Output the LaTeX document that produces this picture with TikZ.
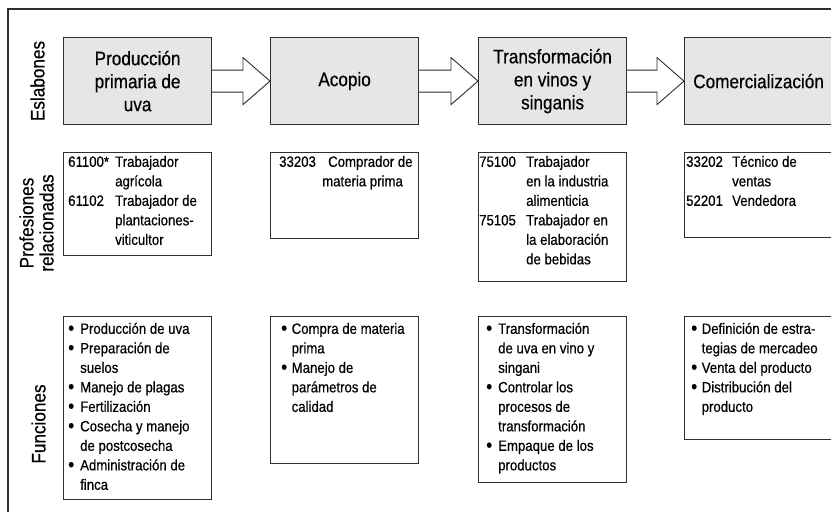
\documentclass[tikz,border=0pt]{standalone}
\usepackage{fontspec}
\setmainfont{Liberation Sans}[FakeStretch=0.88,FakeBold=0.5]
\usetikzlibrary{calc}
\definecolor{linecol}{HTML}{2E2E2E}
\definecolor{boxfill}{HTML}{E6E6E6}
\newcommand{\vineta}{\raisebox{-0.8pt}{\scalebox{1.3}{\textbullet}}}
\tikzset{
  frameline/.style={draw=linecol, line width=1.1pt},
  eslabon/.style={draw=linecol, fill=boxfill, line width=1.2pt, minimum width=148pt,
    minimum height=87pt, anchor=north west, align=center, inner sep=0pt,
    font=\fontsize{19.5}{23}\selectfont},
  infobox/.style={draw=linecol, line width=1.2pt, anchor=north west, inner sep=0pt,
    minimum width=148pt},
  rowlabel/.style={rotate=90, align=center, inner sep=0pt,
    font=\fontsize{19.5}{20}\selectfont},
  flecha/.style={draw=linecol, fill=white, line width=0.9pt, line join=miter},
  bodytext/.style={anchor=north west, inner sep=0pt, align=left,
    font=\fontsize{15}{19.5}\selectfont},
}
\newcommand{\flechaentre}[2]{%
  \draw[flecha] ([yshift=11pt]#1.east) -- ([xshift=-27pt,yshift=11pt]#2.west)
    -- ([xshift=-27pt,yshift=23.5pt]#2.west) -- (#2.west)
    -- ([xshift=-27pt,yshift=-23.5pt]#2.west) -- ([xshift=-27pt,yshift=-11pt]#2.west)
    -- ([yshift=-11pt]#1.east);}
\begin{document}
\begin{tikzpicture}[x=1pt,y=-1pt]
\useasboundingbox (0,0) rectangle (831,512);
\clip (0,0) rectangle (831,512);
% outer frame
\draw[frameline] (840,9) -- (8,9) -- (8,520);

% row labels
\node[rowlabel] (l1) at (37.5,81) {Eslabones};
\node[rowlabel] (l2) at (36.5,223) {Profesiones\\relacionadas};
\node[rowlabel] (l3) at (38.5,424) {Funciones};

% eslabones
\node[eslabon] (b1) at (63,37) {Producción\\primaria de\\uva};
\node[eslabon] (b2) at (270,37) {Acopio};
\node[eslabon] (b3) at (478,37) {Transformación\\en vinos y\\singanis};
\node[eslabon] (b4) at (684,37) {Comercialización};
\flechaentre{b1}{b2}
\flechaentre{b2}{b3}
\flechaentre{b3}{b4}

% profesiones
\node[infobox, minimum height=103pt] (p1) at (63,152) {};
\node[infobox, minimum height=86pt] (p2) at (270,152) {};
\node[infobox, minimum height=129pt] (p3) at (478,152) {};
\node[infobox, minimum height=85pt] (p4) at (684,152) {};

\node[bodytext] (pt1) at ([xshift=5pt,yshift=-1pt]p1.north west)
  {\begin{tabular}{@{}p{47pt}@{}l@{}}
   61100* & Trabajador\\
          & agrícola\\
   61102  & Trabajador de\\
          & plantaciones-\\
          & viticultor
   \end{tabular}};
\node[bodytext] (pt2) at ([xshift=9pt,yshift=-1pt]p2.north west)
  {\begin{tabular}{@{}p{49pt}@{}l@{}}
   33203 & Comprador de\\
         & \hspace*{-6pt}materia prima
   \end{tabular}};
\node[bodytext] (pt3) at ([xshift=1pt,yshift=-1pt]p3.north west)
  {\begin{tabular}{@{}p{47pt}@{}l@{}}
   75100 & Trabajador\\
         & en la industria\\
         & alimenticia\\
   75105 & Trabajador en\\
         & la elaboración\\
         & de bebidas
   \end{tabular}};
\node[bodytext] (pt4) at ([xshift=2pt,yshift=-1pt]p4.north west)
  {\begin{tabular}{@{}p{46pt}@{}l@{}}
   33202 & Técnico de\\
         & ventas\\
   52201 & Vendedora
   \end{tabular}};

% funciones
\node[infobox, minimum height=183pt] (f1) at (63,316) {};
\node[infobox, minimum height=147pt] (f2) at (270,316) {};
\node[infobox, minimum height=166pt] (f3) at (478,316) {};
\node[infobox, minimum height=123pt] (f4) at (684,316) {};

\node[bodytext] (ft1) at ([xshift=5pt,yshift=-4pt]f1.north west)
  {\begin{tabular}{@{}p{12pt}@{}l@{}}
   \vineta & Producción de uva\\
   \vineta & Preparación de\\
           & suelos\\
   \vineta & Manejo de plagas\\
   \vineta & Fertilización\\
   \vineta & Cosecha y manejo\\
           & de postcosecha\\
   \vineta & Administración de\\
           & finca
   \end{tabular}};
\node[bodytext] (ft2) at ([xshift=11pt,yshift=-4pt]f2.north west)
  {\begin{tabular}{@{}p{10.5pt}@{}l@{}}
   \vineta & Compra de materia\\
           & prima\\
   \vineta & Manejo de\\
           & parámetros de\\
           & calidad
   \end{tabular}};
\node[bodytext] (ft3) at ([xshift=8pt,yshift=-4pt]f3.north west)
  {\begin{tabular}{@{}p{12pt}@{}l@{}}
   \vineta & Transformación\\
           & de uva en vino y\\
           & singani\\
   \vineta & Controlar los\\
           & procesos de\\
           & transformación\\
   \vineta & Empaque de los\\
           & productos
   \end{tabular}};
\node[bodytext] (ft4) at ([xshift=7pt,yshift=-4pt]f4.north west)
  {\begin{tabular}{@{}p{10.5pt}@{}l@{}}
   \vineta & Definición de estra-\\
           & tegias de mercadeo\\
   \vineta & Venta del producto\\
   \vineta & Distribución del\\
           & producto
   \end{tabular}};
\end{tikzpicture}
\end{document}
